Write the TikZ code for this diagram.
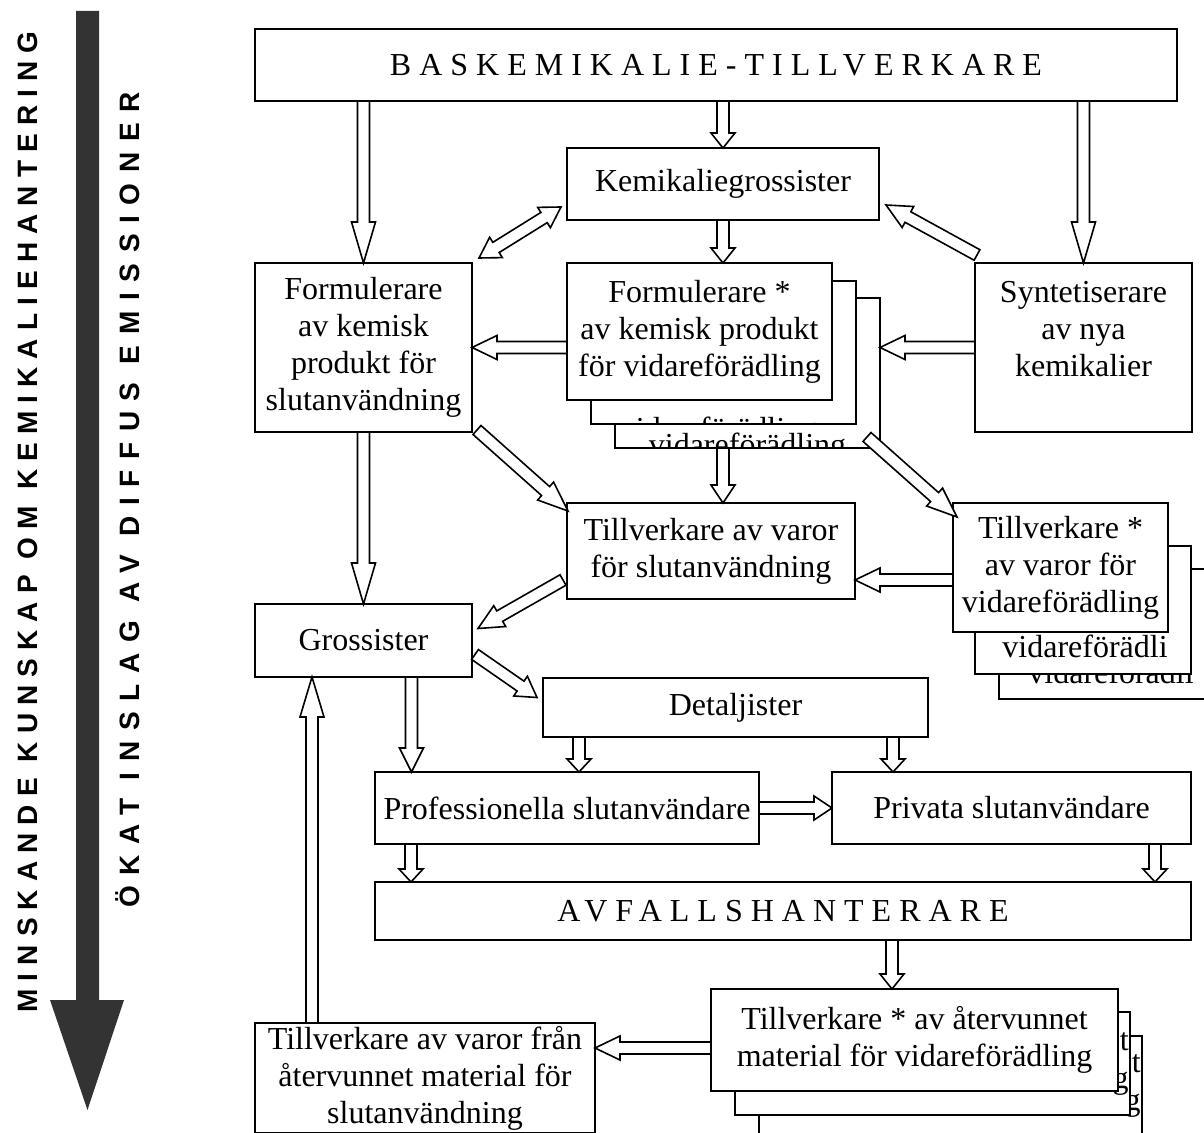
\documentclass[tikz,border=0pt]{standalone}
\usepackage{fontspec}
\setmainfont{Liberation Serif}
\newfontfamily\spacedfont[LetterSpace=25]{Liberation Serif}
\newfontfamily\sidefont[LetterSpace=29]{Liberation Sans}
\newfontfamily\sidewidefont[LetterSpace=38]{Liberation Sans}
\usetikzlibrary{calc}

% hollow block arrow: \barrow[head length in px]{(from)}{(to)}
\newcommand{\barrow}[3][24]{%
  \coordinate (bh) at ($#3!#1*0.5pt!#2$);
  \draw[blockarrow] ($#2!3pt!90:#3$) -- ($(bh)!3pt!90:#3$) -- ($(bh)!6pt!90:#3$) -- #3
    -- ($(bh)!6pt!-90:#3$) -- ($(bh)!3pt!-90:#3$) -- ($#2!3pt!-90:#3$) -- cycle;}
% hollow block arrow with two heads
\newcommand{\bdarrow}[3][20]{%
  \coordinate (ba) at ($#2!#1*0.5pt!#3$);
  \coordinate (bb) at ($#3!#1*0.5pt!#2$);
  \draw[blockarrow] #2 -- ($(ba)!6pt!90:#3$) -- ($(ba)!3pt!90:#3$) -- ($(bb)!3pt!-90:#2$)
    -- ($(bb)!6pt!-90:#2$) -- #3 -- ($(bb)!6pt!90:#2$) -- ($(bb)!3pt!90:#2$)
    -- ($(ba)!3pt!-90:#3$) -- ($(ba)!6pt!-90:#3$) -- cycle;}

\tikzset{
  box/.style={draw, line width=1pt, fill=white, inner sep=0pt, outer sep=0pt,
    align=center, font=\fontsize{16}{18.5}\selectfont},
  boxsize/.style 2 args={minimum width=#1*0.5pt, minimum height=#2*0.5pt},
  backtext/.style={inner sep=0pt, font=\fontsize{16}{18.5}\selectfont},
  blockarrow/.style={draw, line width=0.8pt, fill=white, line join=miter}
}

\begin{document}
\begin{tikzpicture}[x=0.5pt, y=-0.5pt]
\useasboundingbox (0,0) rectangle (1204,1133);

% Trend arrow and side texts
\fill[black!80] (76,11) -- (99,11) -- (99,1000) -- (124,1000) -- (87.5,1110)
  -- (50,1000) -- (76,1000) -- cycle;
\node[rotate=90, font=\fontsize{14}{16}\sidefont\bfseries] (knowledge) at (28,522)
  {MINSKANDE KUNSKAP OM KEMIKALIEHANTERING};
\node[rotate=90, font=\fontsize{14}{16}\sidewidefont\bfseries] (emission) at (128,500)
  {ÖKAT INSLAG AV DIFFUS EMISSIONER};

% Nodes
\node[box, boxsize={922}{72}] (base) at (716,65) {\spacedfont BASKEMIKALIE-TILLVERKARE};
\node[box, boxsize={312}{72}] (grossist) at (723,184) {Kemikaliegrossister};
\node[box, boxsize={217}{169}] (formslut) at (363.5,347.5)
  {Formulerare\\av kemisk\\produkt för\\slutanvändning};

\node[box, boxsize={265}{150}] (formvid3) at (747.5,373) {};
\begin{scope}
  \clip (formvid3.north west) rectangle (formvid3.south east);
  \node[backtext, anchor=base] (formvid3text) at ($(formvid3.south)+(0,8)$) {vidareförädling};
\end{scope}
\node[box, boxsize={265}{143}] (formvid2) at (723.5,352.5) {};
\begin{scope}
  \clip (formvid2.north west) rectangle (formvid2.south east);
  \node[backtext, anchor=base] (formvid2text) at ($(formvid2.south)+(-5,16)$) {vidareförädling};
\end{scope}
\node[box, boxsize={265}{137}] (formvid) at (699.5,331.5)
  {Formulerare *\\av kemisk produkt\\för vidareförädling};

\node[box, boxsize={217}{169}] (synt) at (1083.5,347.5) {};
\node[backtext, align=center, anchor=north] (synttext) at ($(synt.north)+(0,18)$)
  {Syntetiserare\\av nya\\kemikalier};

\node[box, boxsize={288}{96}] (varslut) at (711,551) {Tillverkare av varor\\för slutanvändning};

\node[box, boxsize={216}{130}] (varvid3) at (1107,634) {};
\node[backtext, anchor=base west] (varvid3text) at ($(varvid3.south west)+(29,-16)$) {vidareförädli};
\node[box, boxsize={216}{128}] (varvid2) at (1083,610) {};
\node[backtext, anchor=base west] (varvid2text) at ($(varvid2.south west)+(27,-17)$) {vidareförädli};
\node[box, boxsize={215}{129}] (varvid) at (1060.5,567.5) {Tillverkare *\\av varor för\\vidareförädling};

\node[box, boxsize={217}{73}] (gross) at (363.5,640.5) {Grossister};
\node[box, boxsize={385}{59}] (detalj) at (735.5,707.5) {Detaljister};
\node[box, boxsize={384}{72}] (prof) at (567,808) {Professionella slutanvändare};
\node[box, boxsize={359}{72}] (priv) at (1011.5,808) {Privata slutanvändare};
\node[box, boxsize={816}{58}] (avfall) at (783,911) {\spacedfont AVFALLSHANTERARE};
\node[box, boxsize={340}{110}] (atervslut) at (425,1078)
  {Tillverkare av varor från\\återvunnet material för\\slutanvändning};

\node[box, boxsize={383}{108}] (atervvid3) at (950.5,1090) {};
\begin{scope}
  \clip (atervvid3.north west) rectangle (atervvid3.south east);
  \node[backtext, anchor=base east] (atervvid3a) at ($(atervvid3.north east)+(-1,36)$) {Tillverkare * av återvunnet};
  \node[backtext, anchor=base east] (atervvid3b) at ($(atervvid3.north east)+(-1,74)$) {material för vidareförädling};
\end{scope}
\node[box, boxsize={395}{103}] (atervvid2) at (932.5,1063.5) {};
\begin{scope}
  \clip (atervvid2.north west) rectangle (atervvid2.south east);
  \node[backtext, anchor=base east] (atervvid2a) at ($(atervvid2.north east)+(-1,38)$) {Tillverkare * av återvunnet};
  \node[backtext, anchor=base east] (atervvid2b) at ($(atervvid2.north east)+(-1,76)$) {material för vidareförädling};
\end{scope}
\node[box, boxsize={407}{102}] (atervvid) at (914.5,1040)
  {Tillverkare * av återvunnet\\material för vidareförädling};

% Helper points for slanted and offset arrows
\coordinate (d1) at ($(formslut.north east)+(7,-5)$);
\coordinate (d2) at ($(grossist.south west)+(-6,-13)$);
\coordinate (s1) at ($(synt.north west)+(2,-8)$);
\coordinate (s2) at ($(grossist.south east)+(7,-15)$);
\coordinate (f1) at ($(formslut.south east)+(5,-2)$);
\coordinate (f2) at ($(varslut.north west)+(1,8)$);
\coordinate (v1) at ($(formvid3.south east)+(-13,-11)$);
\coordinate (v2) at ($(varvid.north west)+(4,14)$);
\coordinate (v3) at ($(varslut.south east)+(0,-19)$);
\coordinate (g1) at ($(varslut.south west)+(-4,-19)$);
\coordinate (g2) at ($(gross.east)+(6,-12)$);
\coordinate (g3) at ($(gross.east)+(3,14)$);
\coordinate (g4) at ($(detalj.west)+(-6,-10)$);
\coordinate (p1) at ($(gross.south)+(48,0)$);
\coordinate (p2) at ($(detalj.south west)+(36,0)$);
\coordinate (p3) at ($(detalj.south east)+(-35,0)$);
\coordinate (w1) at ($(prof.south west)+(36,0)$);
\coordinate (w2) at ($(priv.south east)+(-36,0)$);
\coordinate (w3) at ($(avfall.south west)+(517,0)$);
\coordinate (r1) at ($(atervvid.west)+(0,8)$);
\coordinate (r2) at ($(atervslut.north west)+(57,0)$);

% Arrows
\barrow[41]{(base.south -| formslut.north)}{(formslut.north)}
\barrow[15]{(base.south -| grossist.north)}{(grossist.north)}
\barrow[41]{(base.south -| synt.north)}{(synt.north)}
\barrow[15]{(grossist.south)}{(grossist.south |- formvid.north)}
\bdarrow[20]{(d1)}{(d2)}
\barrow[25]{(s1)}{(s2)}
\barrow[25]{(formslut.east -| formvid.west)}{(formslut.east)}
\barrow[25]{(synt.west)}{(synt.west -| formvid3.east)}
\barrow[41]{(formslut.south)}{(gross.north)}
\barrow[30]{(f1)}{(f2)}
\barrow[18]{(formvid3.south -| grossist.south)}{(varslut.north -| grossist.south)}
\barrow[30]{(v1)}{(v2)}
\barrow[25]{(v3 -| varvid.west)}{(v3)}
\barrow[25]{(g1)}{(g2)}
\barrow[20]{(g3)}{(g4)}
\barrow[24]{(p1)}{(p1 |- prof.north)}
\barrow[13]{(p2)}{(p2 |- prof.north)}
\barrow[13]{(p3)}{(p3 |- priv.north)}
\barrow[18]{(prof.east)}{(prof.east -| priv.west)}
\barrow[13]{(w1)}{(w1 |- avfall.north)}
\barrow[13]{(w2)}{(w2 |- avfall.north)}
\barrow[15]{(w3)}{(w3 |- atervvid.north)}
\barrow[25]{(r1)}{(r1 -| atervslut.east)}
\barrow[40]{(r2)}{(r2 |- gross.south)}

\end{tikzpicture}
\end{document}
